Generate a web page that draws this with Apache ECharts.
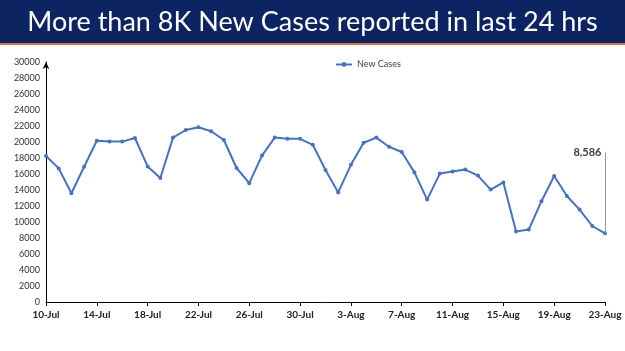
<!DOCTYPE html>
<html>
<head>
<meta charset="utf-8">
<script src="https://cdn.jsdelivr.net/npm/echarts@6/dist/echarts.min.js"></script>
<style>
  html, body { margin: 0; padding: 0; background: #fff; }
  #main { width: 625px; height: 351px; }
</style>
</head>
<body>
<div id="main"></div>
<script>
// dates (10-Jul .. 23-Aug)
var dates = ["10-Jul","11-Jul","12-Jul","13-Jul","14-Jul","15-Jul","16-Jul","17-Jul","18-Jul","19-Jul",
  "20-Jul","21-Jul","22-Jul","23-Jul","24-Jul","25-Jul","26-Jul","27-Jul","28-Jul","29-Jul",
  "30-Jul","31-Jul","1-Aug","2-Aug","3-Aug","4-Aug","5-Aug","6-Aug","7-Aug","8-Aug",
  "9-Aug","10-Aug","11-Aug","12-Aug","13-Aug","14-Aug","15-Aug","16-Aug","17-Aug","18-Aug",
  "19-Aug","20-Aug","21-Aug","22-Aug","23-Aug"];

// new cases per day
var newCases = [18250, 16700, 13600, 16900, 20150, 20050, 20050, 20500, 16950, 15500,
  20550, 21500, 21850, 21350, 20250, 16750, 14850, 18300, 20550, 20400,
  20400, 19650, 16500, 13700, 17150, 19900, 20550, 19400, 18750, 16200,
  12800, 16050, 16300, 16550, 15800, 14050, 14950, 8800, 9050, 12600,
  15750, 13250, 11550, 9500, 8586];

var lastLabel = "8,586";
var leaderTop = 18700;

var myChart = echarts.init(document.getElementById('main'));

var last = dates.length - 1;

var option = {
    animation: false,
    textStyle: { fontFamily: 'Lato' },
    graphic: [
        { type: 'rect', left: 0, top: 0, shape: { width: 625, height: 43 }, style: { fill: '#0c2461' } },
        { type: 'rect', left: 0, top: 43, shape: { width: 625, height: 2 }, style: { fill: '#e0703c' } }
    ],
    title: {
        text: 'More than 8K New Cases reported in last 24 hrs',
        left: 'center',
        top: 4,
        textStyle: { color: '#fff', fontSize: 27, fontWeight: 'normal', fontFamily: 'Lato' }
    },
    legend: {
        data: ['New Cases'],
        top: 55,
        left: 330,
        itemWidth: 16,
        itemHeight: 6,
        textStyle: { fontSize: 9, color: '#404040' }
    },
    grid: { left: 46, right: 20, top: 62, bottom: 49 },
    xAxis: {
        type: 'category',
        data: dates,
        boundaryGap: false,
        axisLine: { lineStyle: { color: '#000' } },
        axisTick: { interval: 3, length: 4, lineStyle: { color: '#000' } },
        axisLabel: { interval: 3, fontSize: 10, fontWeight: 'bold', color: '#222', margin: 8 }
    },
    yAxis: {
        type: 'value',
        min: 0,
        max: 30000,
        interval: 2000,
        splitLine: { show: false },
        axisLine: { show: true, symbol: ['none', 'arrow'], symbolSize: [5, 7], lineStyle: { color: '#000' } },
        axisTick: { show: false },
        axisLabel: { fontSize: 9, color: '#333', margin: 6, formatter: function (v) { return String(v); } }
    },
    series: [{
        name: 'New Cases',
        type: 'line',
        data: newCases,
        symbol: 'circle',
        symbolSize: 4,
        itemStyle: { color: '#4472c4' },
        lineStyle: { color: '#4472c4', width: 2 },
        markLine: {
            silent: true,
            symbol: ['none', 'none'],
            lineStyle: { color: '#999', width: 1, type: 'solid' },
            label: { show: false },
            data: [[{ coord: [last, newCases[last]] }, { coord: [last, leaderTop] }]]
        },
        markPoint: {
            silent: true,
            symbol: 'circle',
            symbolSize: 1,
            itemStyle: { color: 'rgba(0,0,0,0)' },
            data: [{ coord: [last, leaderTop], value: lastLabel }],
            label: {
                show: true,
                formatter: lastLabel,
                position: 'left',
                distance: 3,
                fontSize: 11,
                fontWeight: 'bold',
                color: '#404040'
            }
        }
    }]
};

myChart.setOption(option);
</script>
</body>
</html>
